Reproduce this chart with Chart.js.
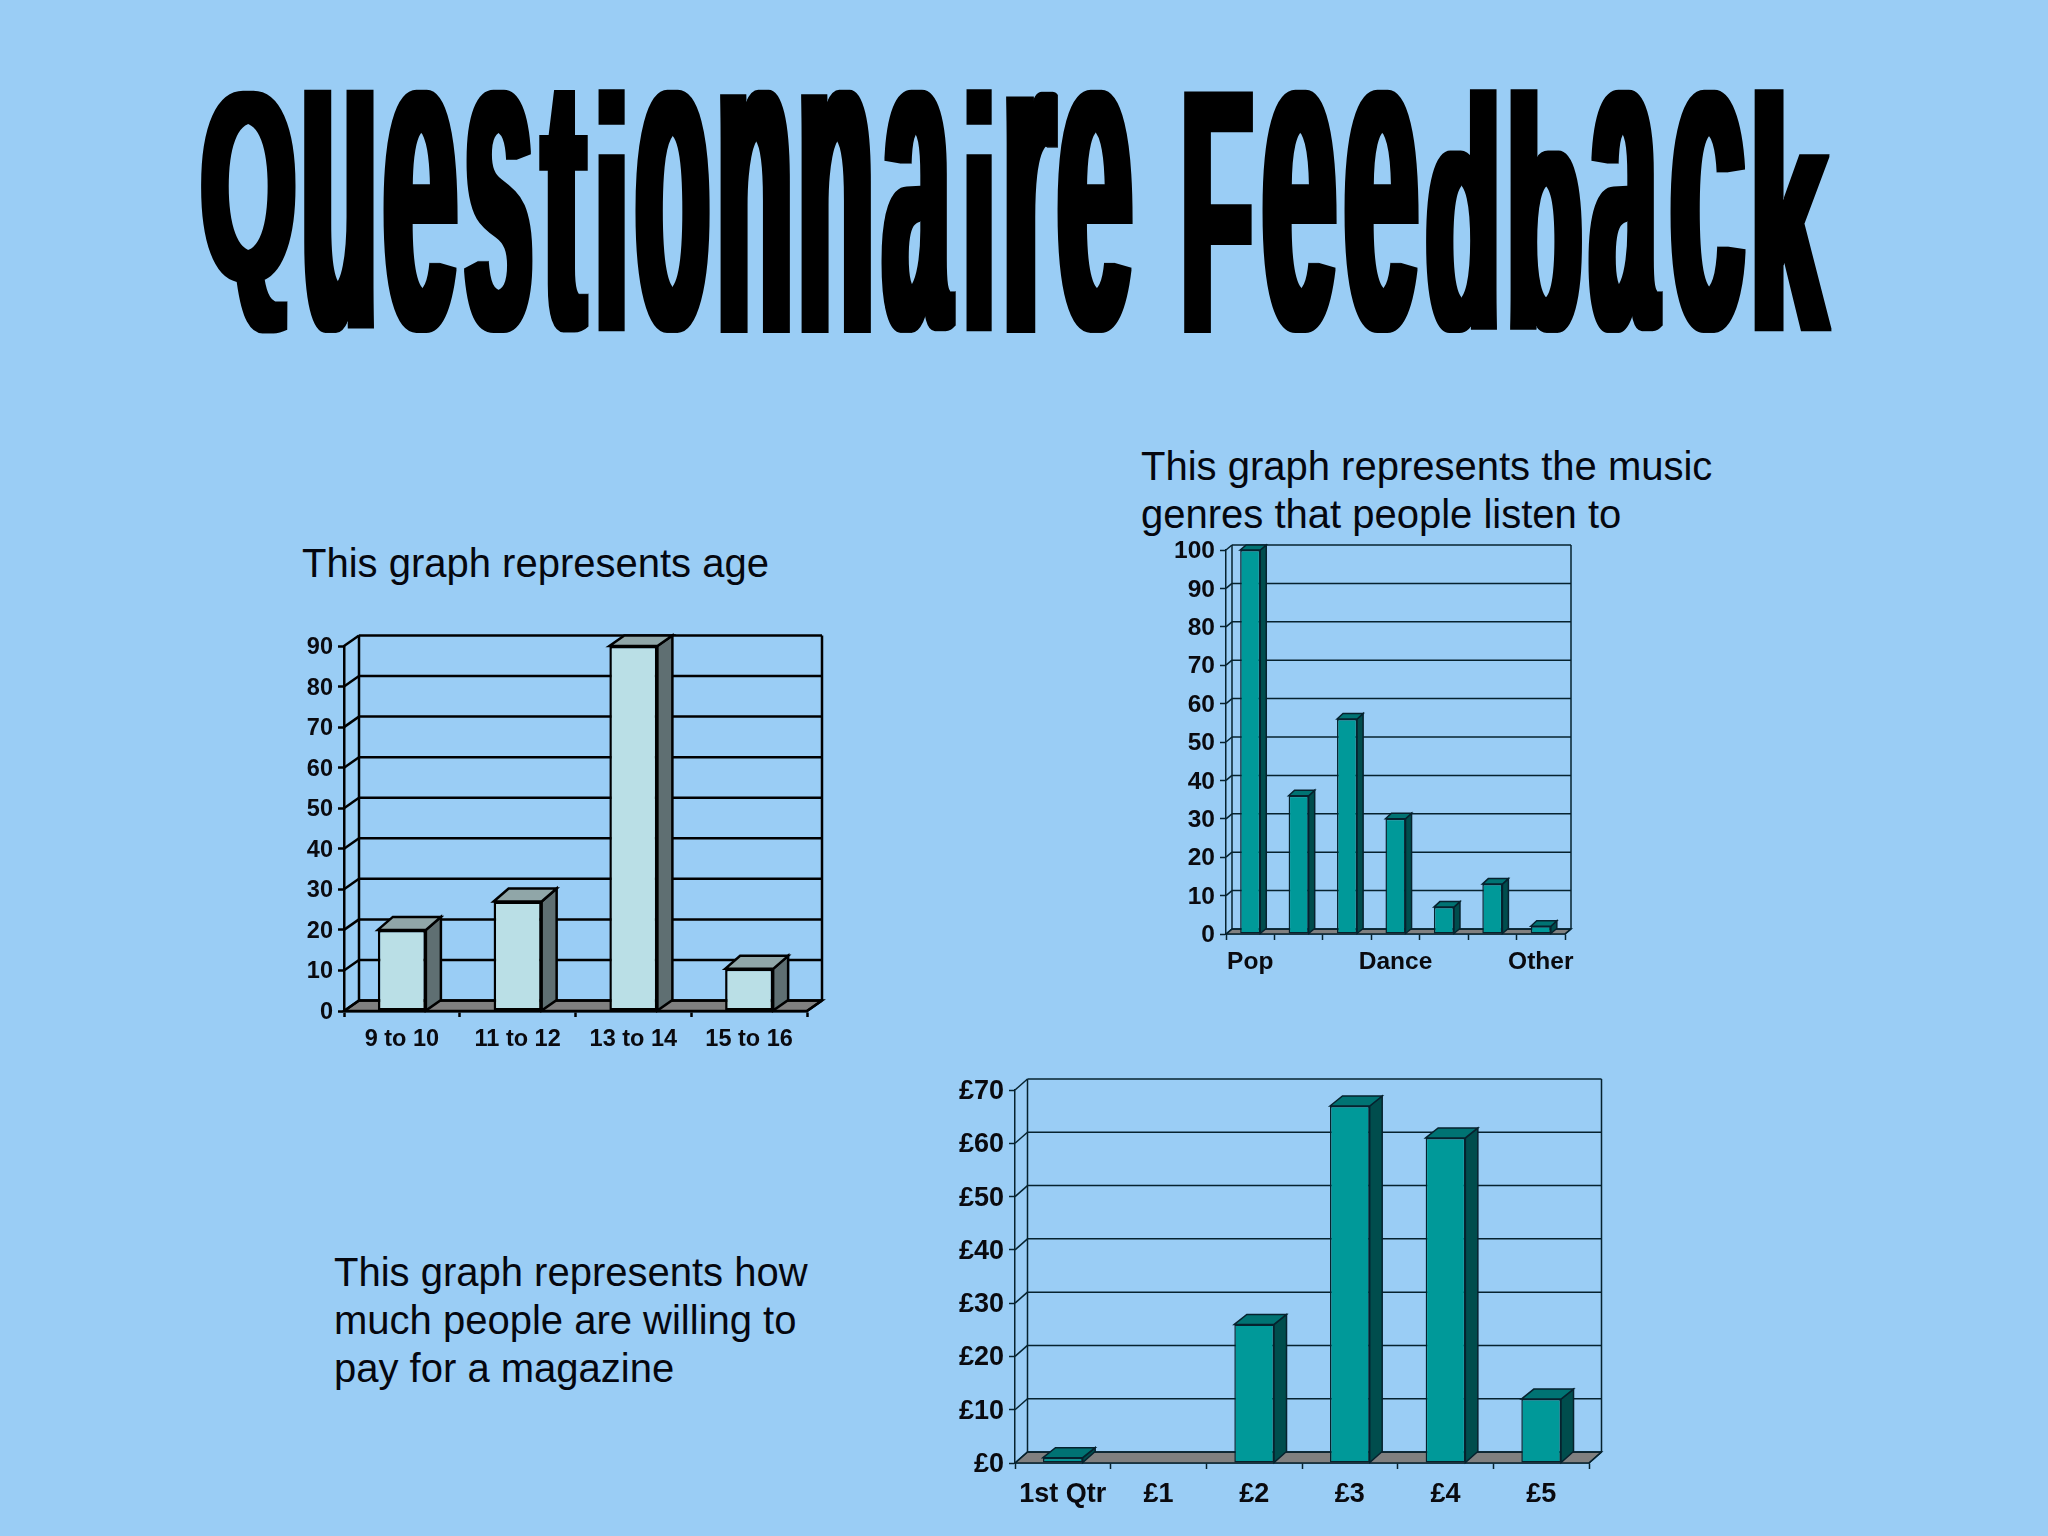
<!DOCTYPE html>
<html>
<head>
<meta charset="utf-8">
<title>Questionnaire Feedback</title>
<script src="https://cdn.jsdelivr.net/npm/chart.js@4/dist/chart.umd.min.js"></script>
<style>
  html, body { margin: 0; padding: 0; }
  body { width: 2048px; height: 1536px; background: #9acdf5; position: relative; overflow: hidden; }
  canvas { position: absolute; }
  #title { position: absolute; left: 0; top: 0; }
  .note { position: absolute; font: 40px/48px "Liberation Sans", Arial, sans-serif; color: #05070f; white-space: nowrap; }
</style>
</head>
<body>
<svg id="title" width="2048" height="400" role="img" aria-label="Questionnaire Feedback">
  <!-- the WordArt letters are much heavier sideways than the plain bold face -->
  <filter id="heavy" filterUnits="userSpaceOnUse" x="0" y="0" width="2048" height="400">
    <feMorphology operator="dilate" radius="5 1"/>
  </filter>
  <g id="titleLetters" filter="url(#heavy)"></g>
</svg>
<div class="note" style="left:302px;top:539px">This graph represents age</div>
<div class="note" style="left:1141px;top:442px">This graph represents the music<br>genres that people listen to</div>
<div class="note" style="left:334px;top:1248px">This graph represents how<br>much people are willing to<br>pay for a magazine</div>
<canvas id="ageChart" width="550" height="440" style="left:290px;top:626px"></canvas>
<canvas id="genreChart" width="440" height="480" style="left:1160px;top:521px"></canvas>
<canvas id="priceChart" width="670" height="470" style="left:950px;top:1061px"></canvas>

<script>
// Age chart
const ageLabels = ['9 to 10', '11 to 12', '13 to 14', '15 to 16'];
const ageValues = [20, 27, 90, 10.4];

// Music genre chart, only every third label is printed in the original
const genreLabels = ['Pop', '', '', 'Dance', '', '', 'Other'];
const genreValues = [100, 36, 56, 30, 7, 13, 2];

// Magazine price chart
const priceLabels = ['1st Qtr', '£1', '£2', '£3', '£4', '£5'];
const priceValues = [1, 0, 26, 67, 61, 12];

// WordArt title: every letter is stretched to fill the same height
const titleLetters = 'QuestionnaireFeedback'.split('');
const titleEdges = [
  [201, 296], [304, 374], [383, 458], [464, 533], [539, 589], [598, 625], [635, 710],
  [720, 790], [801, 871], [881, 956], [966, 992], [1006, 1058], [1057, 1133],
  [1184, 1253], [1262, 1337], [1344, 1419], [1426, 1497], [1510, 1582], [1588, 1663],
  [1670, 1746], [1754, 1832]
];
const TITLE_TOP = 89, TITLE_BOTTOM = 333;
const HEAVY_X = 5, HEAVY_Y = 1;

function drawTitle() {
  const group = document.getElementById('titleLetters');
  const ctx = document.createElement('canvas').getContext('2d');
  ctx.font = 'bold 200px "Liberation Sans"';
  titleLetters.forEach((ch, i) => {
    const m = ctx.measureText(ch);
    const left = -m.actualBoundingBoxLeft, right = m.actualBoundingBoxRight;
    const top = -m.actualBoundingBoxAscent, bottom = m.actualBoundingBoxDescent;
    const x0 = titleEdges[i][0] + HEAVY_X, x1 = titleEdges[i][1] - HEAVY_X;
    const y0 = TITLE_TOP + HEAVY_Y, y1 = TITLE_BOTTOM - HEAVY_Y;
    const sx = (x1 - x0) / (right - left);
    const sy = (y1 - y0) / (bottom - top);
    const t = document.createElementNS('http://www.w3.org/2000/svg', 'text');
    t.setAttribute('font-family', 'Liberation Sans');
    t.setAttribute('font-weight', 'bold');
    t.setAttribute('font-size', '200');
    t.setAttribute('fill', '#000');
    t.setAttribute('transform', `matrix(${sx} 0 0 ${sy} ${x0 - left * sx} ${y0 - top * sy})`);
    t.textContent = ch;
    group.appendChild(t);
  });
}

// Fake Excel style 3D: back wall, floor, bar sides and tops
const box3d = {
  id: 'box3d',
  beforeDatasetsDraw(chart, args, o) {
    const { ctx, scales: { x, y } } = chart;
    const { left, right, bottom, top } = chart.chartArea;
    const dx = o.dx, dy = o.dy;
    ctx.save();
    ctx.strokeStyle = o.line;
    ctx.lineWidth = o.lineWidth;

    // floor
    ctx.fillStyle = '#808080';
    poly(ctx, [[left, bottom], [left + dx, bottom + dy], [right + dx, bottom + dy], [right, bottom]]);

    // back wall grid and the slanted lines on the left wall
    y.ticks.forEach((t, i) => {
      const py = y.getPixelForTick(i);
      line(ctx, left, py, left + dx, py + dy);
      line(ctx, left + dx, py + dy, right + dx, py + dy);
    });
    line(ctx, left + dx, top + dy, left + dx, bottom + dy);
    line(ctx, right + dx, top + dy, right + dx, bottom + dy);
    line(ctx, right, bottom, right + dx, bottom + dy);

    // sides and tops of the bars, the caps stop at the top of the wall
    chart.getDatasetMeta(0).data.forEach((bar, i) => {
      if (!chart.data.datasets[0].data[i]) return;
      const { x: cx, y: by, base, width } = bar.getProps(['x', 'y', 'base', 'width']);
      const l = cx - width / 2, r = cx + width / 2;
      const capY = Math.max(by + o.capDy, top + dy);
      ctx.fillStyle = o.side;
      poly(ctx, [[r, by], [r + dx, capY], [r + dx, base + dy], [r, base]]);
      ctx.fillStyle = o.cap;
      poly(ctx, [[l, by], [l + dx, capY], [r + dx, capY], [r, by]]);
    });
    ctx.restore();
  }
};

function line(ctx, x1, y1, x2, y2) {
  ctx.beginPath();
  ctx.moveTo(x1, y1);
  ctx.lineTo(x2, y2);
  ctx.stroke();
}

function poly(ctx, pts) {
  ctx.beginPath();
  pts.forEach((p, i) => i ? ctx.lineTo(p[0], p[1]) : ctx.moveTo(p[0], p[1]));
  ctx.closePath();
  ctx.fill();
  ctx.stroke();
}

function makeChart(id, labels, values, opt) {
  const tickFont = { family: 'Liberation Sans', size: opt.fontSize, weight: 'bold' };
  return new Chart(document.getElementById(id), {
    type: 'bar',
    plugins: [box3d],
    data: {
      labels,
      datasets: [{
        data: values,
        backgroundColor: opt.front,
        borderColor: opt.line,
        borderWidth: opt.lineWidth,
        borderSkipped: false,
        barPercentage: 1,
        categoryPercentage: 0.415,
        clip: false
      }]
    },
    options: {
      responsive: false,
      animation: false,
      layout: { padding: { top: opt.padTop, right: opt.padRight } },
      plugins: {
        legend: { display: false },
        tooltip: { enabled: false },
        box3d: { dx: opt.dx, dy: opt.dy, capDy: opt.capDy, side: opt.side, cap: opt.cap, line: opt.line, lineWidth: opt.lineWidth }
      },
      scales: {
        x: {
          afterFit: s => { s.height = opt.xHeight; },
          border: { color: opt.line, width: opt.lineWidth },
          grid: { drawOnChartArea: false, tickLength: 6, tickColor: opt.line, tickWidth: opt.lineWidth },
          ticks: { autoSkip: false, maxRotation: 0, color: '#0a0a0f', font: tickFont, padding: opt.xPad }
        },
        y: {
          min: 0,
          max: opt.max,
          afterFit: s => { s.width = opt.yWidth; },
          border: { color: opt.line, width: opt.lineWidth },
          grid: { drawOnChartArea: false, tickLength: 6, tickColor: opt.line, tickWidth: opt.lineWidth },
          ticks: { stepSize: 10, color: '#0a0a0f', font: tickFont, padding: 5, labelOffset: 1.5, callback: opt.tickFmt || (v => v) }
        }
      }
    }
  });
}

const TEAL = { front: '#009999', side: '#004d4d', cap: '#007373', line: '#06222e' };

drawTitle();

makeChart('ageChart', ageLabels, ageValues, {
  max: 90, fontSize: 23.5, dx: 15, dy: -10.5, capDy: -13, lineWidth: 2.5,
  front: '#badfe6', side: '#5f6f72', cap: '#90a6a8', line: '#000',
  padTop: 20, padRight: 33, yWidth: 54, xHeight: 55, xPad: 8
});

makeChart('genreChart', genreLabels, genreValues, {
  ...TEAL,
  max: 100, fontSize: 24.5, dx: 6, dy: -5, capDy: -5.5, lineWidth: 1.5,
  padTop: 29, padRight: 35, yWidth: 66, xHeight: 67, xPad: 8
});

makeChart('priceChart', priceLabels, priceValues, {
  ...TEAL,
  max: 70, fontSize: 27, dx: 12.5, dy: -11, capDy: -10, lineWidth: 1.5,
  padTop: 29, padRight: 31, yWidth: 65, xHeight: 68, xPad: 9,
  tickFmt: v => `£${v}`
});
</script>
</body>
</html>
